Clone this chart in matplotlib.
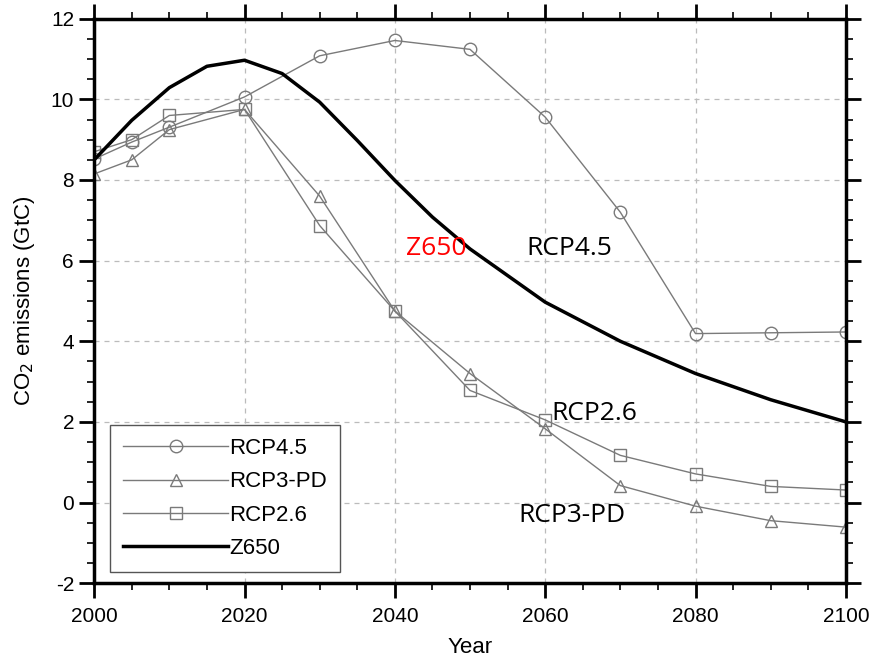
import numpy as np
import matplotlib.pyplot as plt
from matplotlib.ticker import MultipleLocator

plt.rcParams['font.family'] = ['Liberation Sans', 'DejaVu Sans']
plt.rcParams['axes.unicode_minus'] = False

years = [2000, 2005, 2010, 2020, 2030, 2040, 2050, 2060, 2070, 2080, 2090, 2100]
rcp45 = [8.52, 8.94, 9.31, 10.06, 11.08, 11.46, 11.24, 9.56, 7.20, 4.19, 4.21, 4.23]
rcp3pd = [8.15, 8.50, 9.25, 9.75, 7.60, 4.75, 3.20, 1.83, 0.42, -0.09, -0.45, -0.61]
rcp26 = [8.70, 9.00, 9.60, 9.75, 6.87, 4.75, 2.78, 2.05, 1.17, 0.71, 0.40, 0.31]

z_years = [2000, 2005, 2010, 2015, 2020, 2025, 2030, 2035, 2040, 2045, 2050,
           2060, 2070, 2080, 2090, 2100]
z650 = [8.50, 9.48, 10.29, 10.82, 10.97, 10.64, 9.93, 8.98, 7.99, 7.08, 6.29,
        4.97, 4.00, 3.20, 2.55, 2.00]

GREY = "#7a7a7a"

fig = plt.figure(figsize=(8.72, 6.68), dpi=100)
ax = fig.add_axes([0.108, 0.127, 0.862, 0.845])

kw = dict(color=GREY, lw=1.0, markersize=9, markerfacecolor="none",
          markeredgecolor=GREY, markeredgewidth=1.0)
ax.plot(years, rcp45, marker="o", label="RCP4.5", **kw)
ax.plot(years, rcp3pd, marker="^", label="RCP3-PD", **kw)
ax.plot(years, rcp26, marker="s", label="RCP2.6", **kw)
ax.plot(z_years, z650, color="black", lw=2.5, label="Z650")

ax.set_xlim(2000, 2100)
ax.set_ylim(-2, 12)
ax.xaxis.set_major_locator(MultipleLocator(20))
ax.xaxis.set_minor_locator(MultipleLocator(5))
ax.yaxis.set_major_locator(MultipleLocator(2))
ax.yaxis.set_minor_locator(MultipleLocator(0.5))
ax.tick_params(which="both", direction="out", top=True, right=True,
               labelsize=15, colors="black")
ax.tick_params(which="major", length=11, width=2)
ax.tick_params(which="minor", length=5, width=1.2)
ax.tick_params(axis="x", pad=6)
for sp in ax.spines.values():
    sp.set_linewidth(2.5)
ax.grid(True, which="major", color="#bbbbbb", lw=0.9, ls=(0, (4, 4)))

ax.set_xlabel("Year", fontsize=16, labelpad=8)
ax.set_ylabel("CO$_2$ emissions (GtC)", fontsize=16, labelpad=10)

leg = ax.legend(loc="lower left", bbox_to_anchor=(0.021, 0.0195),
                borderaxespad=0, fontsize=16, handlelength=4.7,
                handletextpad=0.05, labelspacing=0.55, fancybox=False,
                framealpha=1, edgecolor="#555555", borderpad=0.6)
leg.get_frame().set_linewidth(1.0)

ann = dict(fontsize=19, family=["Open Sans", "DejaVu Sans"], va="center")
ax.text(2041.5, 6.3, "Z650", color="red", **ann)
ax.text(2057.5, 6.3, "RCP4.5", color="black", **ann)
ax.text(2060.8, 2.2, "RCP2.6", color="black", **ann)
ax.text(2056.5, -0.33, "RCP3-PD", color="black", **ann)

fig.savefig("out.png", dpi=100)
